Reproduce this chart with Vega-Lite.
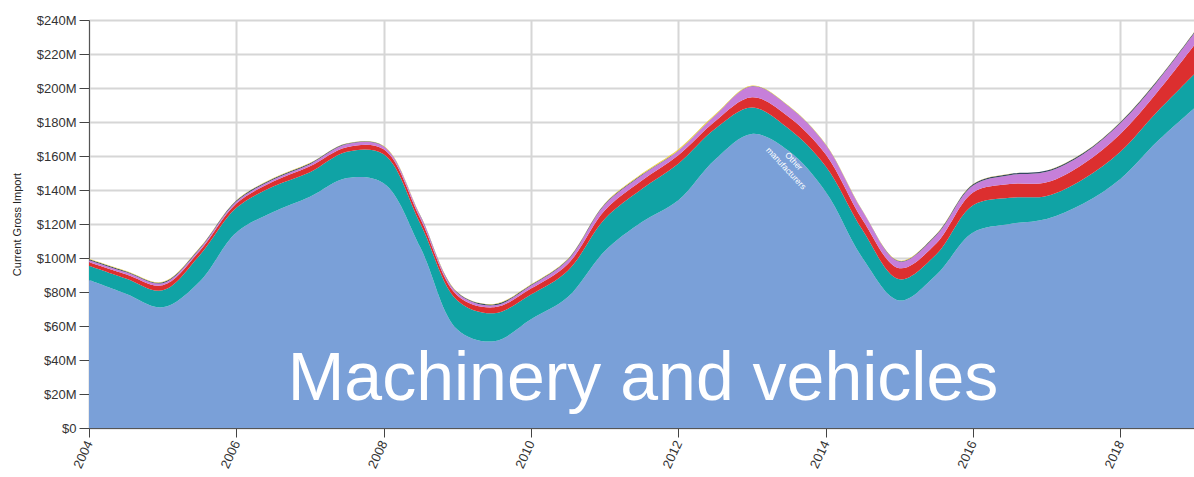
{
  "$schema": "https://vega.github.io/schema/vega-lite/v6.json",
  "width": 1105,
  "height": 408,
  "autosize": {"type": "none"},
  "padding": {"left": 89, "top": 20, "right": 0, "bottom": 49},
  "background": "white",
  "config": {
    "view": {"stroke": null},
    "font": "Liberation Sans",
    "axis": {"gridColor": "#d6d6d6", "gridWidth": 2, "tickColor": "#444", "domainColor": "#555", "labelColor": "#333"}
  },
  "resolve": {"axis": {"x": "independent", "y": "independent"}},
  "layer": [
    {
      "data": {"values": [
        {"year": 2004.0, "machinery": 87, "other_manuf": 8.5, "primary": 2, "raw": 1.2, "special": 0.5, "transport": 0.3},
        {"year": 2004.5, "machinery": 79, "other_manuf": 9, "primary": 2.5, "raw": 1.2, "special": 0.5, "transport": 0.3},
        {"year": 2005.0, "machinery": 71, "other_manuf": 10, "primary": 3, "raw": 1.2, "special": 0.5, "transport": 0.3},
        {"year": 2005.5, "machinery": 86, "other_manuf": 15.5, "primary": 2.5, "raw": 1.2, "special": 0.5, "transport": 0.3},
        {"year": 2006.0, "machinery": 115, "other_manuf": 14.5, "primary": 2.5, "raw": 1.2, "special": 0.6, "transport": 0.2},
        {"year": 2006.5, "machinery": 127, "other_manuf": 15, "primary": 3, "raw": 1.2, "special": 0.6, "transport": 0.2},
        {"year": 2007.0, "machinery": 136, "other_manuf": 14.5, "primary": 3.5, "raw": 1.2, "special": 0.6, "transport": 0.2},
        {"year": 2007.5, "machinery": 147, "other_manuf": 15.5, "primary": 2.7, "raw": 1.8, "special": 0.3, "transport": 0.2},
        {"year": 2008.0, "machinery": 144, "other_manuf": 17, "primary": 3, "raw": 1.6, "special": 0.2, "transport": 0.2},
        {"year": 2008.5, "machinery": 106, "other_manuf": 14, "primary": 3, "raw": 1.5, "special": 0.3, "transport": 0.2},
        {"year": 2009.0, "machinery": 58, "other_manuf": 17, "primary": 3, "raw": 1.4, "special": 0.4, "transport": 0.2},
        {"year": 2009.5, "machinery": 51, "other_manuf": 16.5, "primary": 3.5, "raw": 1.2, "special": 0.6, "transport": 0.2},
        {"year": 2010.0, "machinery": 64, "other_manuf": 14.5, "primary": 3.5, "raw": 1.8, "special": 0.5, "transport": 0.2},
        {"year": 2010.5, "machinery": 77, "other_manuf": 15.5, "primary": 4, "raw": 2.3, "special": 0.5, "transport": 0.2},
        {"year": 2011.0, "machinery": 104, "other_manuf": 19, "primary": 5, "raw": 3.3, "special": 0.4, "transport": 0.3},
        {"year": 2011.5, "machinery": 121, "other_manuf": 19.5, "primary": 5, "raw": 3, "special": 0.4, "transport": 0.6},
        {"year": 2012.0, "machinery": 134, "other_manuf": 21.5, "primary": 5, "raw": 2.6, "special": 0.2, "transport": 0.7},
        {"year": 2012.5, "machinery": 158, "other_manuf": 18, "primary": 4.5, "raw": 3.3, "special": 0.2, "transport": 0.5},
        {"year": 2013.0, "machinery": 173, "other_manuf": 15.5, "primary": 6, "raw": 6.5, "special": 0.2, "transport": 0.3},
        {"year": 2013.5, "machinery": 163, "other_manuf": 13, "primary": 7, "raw": 6.1, "special": 0.2, "transport": 0.2},
        {"year": 2014.0, "machinery": 139, "other_manuf": 15, "primary": 7, "raw": 5.6, "special": 0.2, "transport": 0.2},
        {"year": 2014.5, "machinery": 100, "other_manuf": 16.5, "primary": 6, "raw": 5.1, "special": 0.2, "transport": 0.2},
        {"year": 2015.0, "machinery": 75, "other_manuf": 12.5, "primary": 6.5, "raw": 3.9, "special": 0.3, "transport": 0.3},
        {"year": 2015.5, "machinery": 90, "other_manuf": 12, "primary": 6.5, "raw": 4.8, "special": 0.5, "transport": 0.2},
        {"year": 2016.0, "machinery": 115, "other_manuf": 16, "primary": 7.5, "raw": 4.2, "special": 0.7, "transport": 0.1},
        {"year": 2016.5, "machinery": 120, "other_manuf": 15.5, "primary": 8, "raw": 5.2, "special": 0.7, "transport": 0.1},
        {"year": 2017.0, "machinery": 123, "other_manuf": 13.5, "primary": 8, "raw": 6.2, "special": 0.7, "transport": 0.1},
        {"year": 2017.5, "machinery": 132, "other_manuf": 14.5, "primary": 9, "raw": 5.7, "special": 0.7, "transport": 0.1},
        {"year": 2018.0, "machinery": 146.5, "other_manuf": 16, "primary": 10.5, "raw": 6.2, "special": 0.7, "transport": 0.1},
        {"year": 2018.5, "machinery": 168.5, "other_manuf": 17.5, "primary": 11.5, "raw": 6.2, "special": 0.7, "transport": 0.1},
        {"year": 2019.0, "machinery": 188, "other_manuf": 20, "primary": 17, "raw": 7, "special": 0.7, "transport": 0.1}
      ]},
      "transform": [
        {"fold": ["machinery", "other_manuf", "primary", "raw", "special", "transport"], "as": ["series", "value"]}
      ],
      "mark": {"type": "area", "interpolate": "catmull-rom"},
      "encoding": {
        "x": {
          "field": "year", "type": "quantitative",
          "scale": {"domain": [2004, 2019], "nice": false, "zero": false},
          "axis": {
            "title": null,
            "values": [2004, 2006, 2008, 2010, 2012, 2014, 2016, 2018],
            "format": "d",
            "labelAngle": -65,
            "labelAlign": "right",
            "labelBaseline": "middle",
            "labelFontSize": 13,
            "labelPadding": 4,
            "labelOverlap": false,
            "tickSize": 9,
            "grid": true
          }
        },
        "y": {
          "field": "value", "type": "quantitative", "stack": "zero",
          "scale": {"domain": [0, 240], "nice": false},
          "axis": {
            "title": "Current Gross Import",
            "titleFontSize": 11,
            "titleFontWeight": "normal",
            "titleColor": "#222",
            "titlePadding": 14,
            "values": [0, 20, 40, 60, 80, 100, 120, 140, 160, 180, 200, 220, 240],
            "labelExpr": "datum.value == 0 ? '$0' : '$' + datum.value + 'M'",
            "labelFontSize": 13,
            "labelPadding": 3,
            "labelOverlap": false,
            "tickSize": 10,
            "grid": true
          }
        },
        "color": {
          "field": "series", "type": "nominal",
          "scale": {
            "domain": ["machinery", "other_manuf", "primary", "raw", "special", "transport"],
            "range": ["#7aa0d8", "#10a3a5", "#dc2f2f", "#c67fd9", "#34475f", "#f0d040"]
          },
          "legend": null
        },
        "order": {"field": "series", "sort": "ascending"}
      }
    },
    {
      "data": {"values": [{"year": 2011.52, "value": 16.5, "label": "Machinery and vehicles"}]},
      "mark": {"type": "text", "color": "white", "fontSize": 68, "align": "center", "baseline": "alphabetic", "font": "Liberation Sans"},
      "encoding": {
        "x": {"field": "year", "type": "quantitative", "axis": null},
        "y": {"field": "value", "type": "quantitative", "axis": null},
        "text": {"field": "label"}
      }
    },
    {
      "data": {"values": [{"year": 2013.57, "value": 157, "label": "Other\nmanufacturers"}]},
      "mark": {"type": "text", "color": "white", "fontSize": 8.5, "angle": 47, "align": "center", "baseline": "middle", "lineBreak": "\n", "font": "Liberation Sans"},
      "encoding": {
        "x": {"field": "year", "type": "quantitative", "axis": null},
        "y": {"field": "value", "type": "quantitative", "axis": null},
        "text": {"field": "label"}
      }
    }
  ]
}
